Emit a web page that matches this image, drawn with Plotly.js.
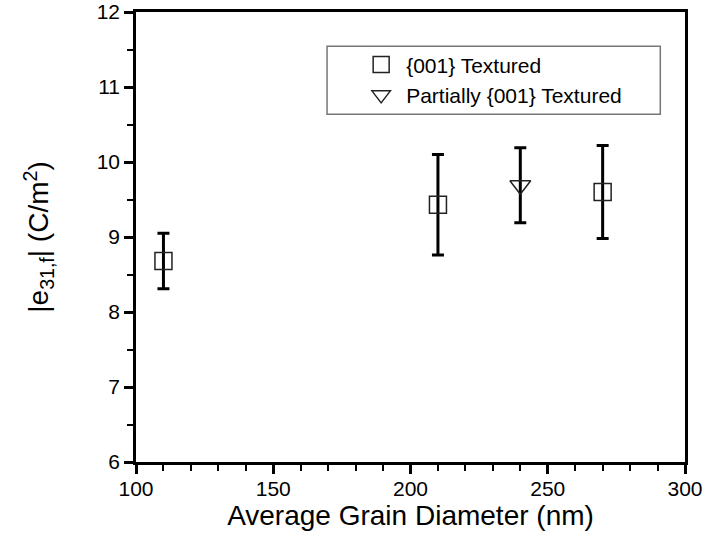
<!DOCTYPE html>
<html><head><meta charset="utf-8">
<script src="https://cdn.plot.ly/plotly-3.0.1.min.js"></script>
<style>body{margin:0;background:#fff}</style>
</head><body>
<div id="chart" style="width:707px;height:541px"></div>
<script>
const texturedX = [110, 210, 270];
const texturedY = [8.68, 9.43, 9.60];
const texturedErr = [0.37, 0.67, 0.62];
const partialX = [240];
const partialY = [9.69];
const partialErr = [0.50];
const xTicks = [100, 150, 200, 250, 300];
const yTicks = [6, 7, 8, 9, 10, 11, 12];

const F = 'Liberation Sans, Arial, sans-serif';
const traces = [
  {x: texturedX, y: texturedY, type: 'scatter', mode: 'markers', name: '{001} Textured',
   marker: {symbol: 'square-open', size: 17, color: '#222', line: {width: 1.5, color: '#222'}},
   error_y: {type: 'data', array: texturedErr, visible: true, color: '#000', thickness: 3, width: 6}},
  {x: partialX, y: partialY, type: 'scatter', mode: 'markers', name: 'Partially {001} Textured',
   marker: {symbol: 'triangle-down-open', size: 18, color: '#222', line: {width: 1.5, color: '#222'}},
   error_y: {type: 'data', array: partialErr, visible: true, color: '#000', thickness: 3, width: 6}}
];
const axBase = {showgrid: false, zeroline: false, showline: true, linecolor: '#000', linewidth: 2.5,
  mirror: true, ticks: 'outside', ticklen: 9, tickwidth: 2.5, tickcolor: '#000',
  tickfont: {family: F, size: 21, color: '#000'}};
const layout = {
  width: 707, height: 541,
  margin: {l: 136, r: 22, t: 12, b: 79},
  paper_bgcolor: '#fff', plot_bgcolor: '#fff',
  showlegend: true,
  xaxis: Object.assign({}, axBase, {range: [100, 300], tickvals: xTicks, ticklabelstandoff: -3,
    minor: {dtick: 10, ticklen: 6, tickwidth: 2, tickcolor: '#000', ticks: 'outside'},
    title: {text: 'Average Grain Diameter (nm)', font: {family: F, size: 28, color: '#000'}, standoff: 6}}),
  yaxis: Object.assign({}, axBase, {range: [6, 12], tickvals: yTicks,
    minor: {dtick: 0.5, ticklen: 6, tickwidth: 2, tickcolor: '#000', ticks: 'outside'},
    title: {text: '|e<sub>31,f</sub>| (C/m<sup>2</sup>)', font: {family: F, size: 28, color: '#000'}, standoff: 40}}),
  legend: {x: 0.401, y: 0.928, xanchor: 'left', yanchor: 'top', bgcolor: 'rgba(0,0,0,0)',
    font: {family: F, size: 21, color: '#000'}, tracegroupgap: 0, itemwidth: 40},
  shapes: [{type: 'rect', xref: 'paper', yref: 'paper', x0: 0.348, x1: 0.955, y0: 0.773, y1: 0.924,
    line: {color: '#777', width: 1.5}}]
};
Plotly.newPlot('chart', traces, layout, {displayModeBar: false});
</script>
</body></html>
